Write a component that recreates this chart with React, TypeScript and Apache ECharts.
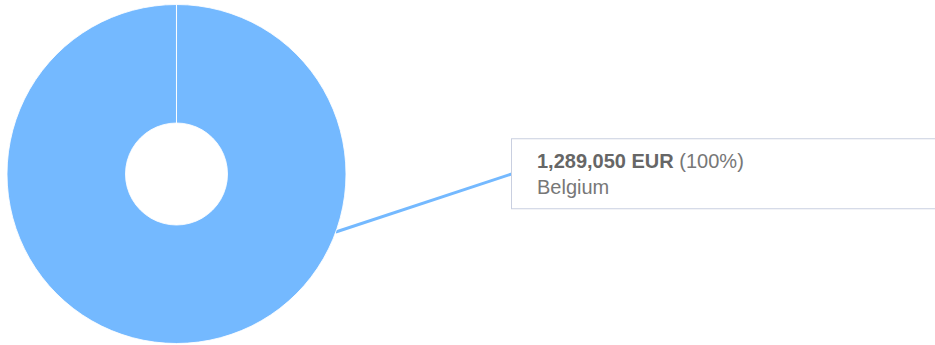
import React, { useEffect, useRef } from "react";
import * as echarts from "echarts";

const categories: string[] = ["Belgium"];
const values: number[] = [1289050];
const currency = "EUR";

const PIE_COLOR = "#74b9ff";
const CX = 176.5;
const CY = 174;
const R_OUT = 169.5;
const R_IN = 51;
const LABEL_X = 512;
const LABEL_Y = 173.8;
const LINE_ANGLE_DEG = -20;
const FONT = "Liberation Sans, Arial, sans-serif";

export default function App() {
  const ref = useRef<HTMLDivElement>(null);
  useEffect(() => {
    if (!ref.current) return;
    const chart = echarts.init(ref.current, null, { renderer: "svg" });
    const rad = (LINE_ANGLE_DEG * Math.PI) / 180;
    const sx = CX + R_OUT * Math.cos(rad);
    const sy = CY - R_OUT * Math.sin(rad);
    const data = categories.map((name, i) => ({ name, value: values[i] }));
    chart.setOption({
      animation: false,
      series: [
        {
          type: "pie",
          center: [CX, CY],
          radius: [R_IN, R_OUT],
          startAngle: 90,
          clockwise: true,
          padAngle: 0.03,
          color: [PIE_COLOR],
          itemStyle: { borderColor: "rgba(255,255,255,0.85)", borderWidth: 1 },
          emphasis: { disabled: true },
          data,
          label: {
            show: true,
            position: "outside",
            fontFamily: FONT,
            fontSize: 20,
            lineHeight: 25.5,
            color: "#666",
            backgroundColor: "#ffffff",
            borderColor: "#c9cfe0",
            borderWidth: 1,
            padding: [9, 0, 9, 25],
            width: 440,
            formatter: (p: any) =>
              `{b|${Number(p.value).toLocaleString("en-US")} ${currency}} {n|(${Math.round(p.percent)}%)}\n{n|${p.name}}`,
            rich: {
              b: { fontWeight: "bold", fontSize: 20, lineHeight: 25.5, color: "#666", fontFamily: FONT },
              n: { fontSize: 20, lineHeight: 25.5, color: "#777", fontFamily: FONT },
            },
          },
          labelLine: {
            show: true,
            length: 20,
            length2: 20,
            lineStyle: { color: PIE_COLOR, width: 3 },
          },
          labelLayout: {
            x: LABEL_X,
            y: LABEL_Y,
            align: "left",
            verticalAlign: "middle",
            labelLinePoints: [
              [sx, sy],
              [LABEL_X, LABEL_Y],
            ],
          },
        },
      ],
    });
    return () => chart.dispose();
  }, []);
  return (
    <div
      ref={ref}
      style={{ position: "absolute", left: 0, top: 0, width: 935, height: 345 }}
    />
  );
}
